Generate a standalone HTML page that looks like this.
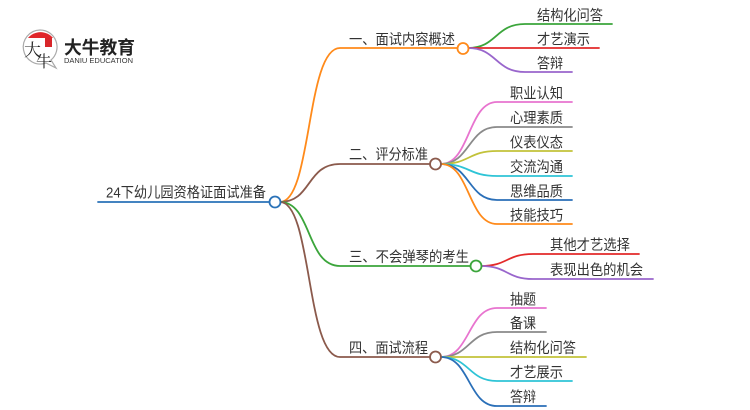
<!DOCTYPE html>
<html><head><meta charset="utf-8"><style>
html,body{margin:0;padding:0;background:#fff;}
svg{display:block;}
text{font-family:"Liberation Sans","Noto Sans CJK SC",sans-serif;font-size:14.5px;fill:#333;}
</style></head><body>
<svg width="750" height="410" viewBox="0 0 750 410" xmlns="http://www.w3.org/2000/svg">
<!-- logo -->
<g>
  <path d="M40,30 a17,17 0 1,0 6,33 l10,5 l-5,-8 a17,17 0 0,0 -11,-30z" fill="#fff" stroke="#aaa" stroke-width="1.2"/>
  <path d="M28,38 a15,13 0 0,1 25,0 z" fill="#e0262a"/>
  <text x="24" y="56" style="font-size:17px;fill:#222;font-family:'Noto Serif CJK SC',serif">大</text>
  <text x="36" y="67" style="font-size:16px;fill:#222;font-family:'Noto Serif CJK SC',serif">牛</text>
  <rect x="45" y="38" width="7" height="9" fill="#d8262a"/>
  <text x="64" y="54" textLength="71" lengthAdjust="spacingAndGlyphs" style="font-size:18px;font-weight:bold;fill:#222">大牛教育</text>
  <text x="64" y="63" textLength="69" lengthAdjust="spacingAndGlyphs" style="font-size:7px;fill:#333">DANIU EDUCATION</text>
</g>

<g fill="none" stroke-width="1.8" stroke-linecap="round">
  <!-- root -->
  <line x1="98" y1="202" x2="270" y2="202" stroke="#2a72b8"/>
  <!-- main branches -->
  <path d="M280,202 C312,202 306,48 340,48 L457,48" stroke="#ff8a1a"/>
  <path d="M280,202 C312,202 306,164 340,164 L430,164" stroke="#8b5a4c"/>
  <path d="M280,202 C312,202 306,266 340,266 L470,266" stroke="#3ba53b"/>
  <path d="M280,202 C312,202 306,357 340,357 L430,357" stroke="#8b5a4c"/>

  <!-- branch 1 children -->
  <path d="M468,48 C497,48 495,24 525,24 L612,24" stroke="#3ba53b"/>
  <path d="M468,48 L599,48" stroke="#e32a2a"/>
  <path d="M468,48 C497,48 495,72 525,72 L572,72" stroke="#9966cc"/>

  <!-- branch 2 children -->
  <path d="M441,164 C470,164 468,102 497,102 L572,102" stroke="#e874cf"/>
  <path d="M441,164 C470,164 468,127 497,127 L572,127" stroke="#8a8a8a"/>
  <path d="M441,164 C470,164 468,151 497,151 L572,151" stroke="#c2c23a"/>
  <path d="M441,164 C470,164 468,176 497,176 L572,176" stroke="#2ec4d6"/>
  <path d="M441,164 C470,164 468,200 497,200 L572,200" stroke="#2a6fb8"/>
  <path d="M441,164 C470,164 468,224 497,224 L572,224" stroke="#ff8a1a"/>

  <!-- branch 3 children -->
  <path d="M481,266 C508,266 506,254 533,254 L639,254" stroke="#e32a2a"/>
  <path d="M481,266 C508,266 506,279 533,279 L653,279" stroke="#9966cc"/>

  <!-- branch 4 children -->
  <path d="M441,357 C470,357 468,308 497,308 L546,308" stroke="#e874cf"/>
  <path d="M441,357 C470,357 468,332 497,332 L546,332" stroke="#8a8a8a"/>
  <path d="M441,357 L586,357" stroke="#c2c23a"/>
  <path d="M441,357 C470,357 468,381 497,381 L572,381" stroke="#2ec4d6"/>
  <path d="M441,357 C470,357 468,406 497,406 L546,406" stroke="#2a6fb8"/>
</g>

<!-- circles -->
<g fill="#fff" stroke-width="1.8">
  <circle cx="275" cy="202" r="5.5" stroke="#2a72b8"/>
  <circle cx="463" cy="48.5" r="5.5" stroke="#ff8a1a"/>
  <circle cx="435.5" cy="164" r="5.5" stroke="#8b5a4c"/>
  <circle cx="476" cy="266" r="5.5" stroke="#3ba53b"/>
  <circle cx="435.5" cy="357" r="5.5" stroke="#8b5a4c"/>
</g>

<!-- labels -->
<text x="106" y="197.5" textLength="160" lengthAdjust="spacingAndGlyphs">24下幼儿园资格证面试准备</text>
<text x="349" y="44.5" textLength="106" lengthAdjust="spacingAndGlyphs">一、面试内容概述</text>
<text x="349" y="159.5" textLength="79" lengthAdjust="spacingAndGlyphs">二、评分标准</text>
<text x="349" y="262" textLength="120" lengthAdjust="spacingAndGlyphs">三、不会弹琴的考生</text>
<text x="349" y="353" textLength="79" lengthAdjust="spacingAndGlyphs">四、面试流程</text>

<text x="537" y="20.5" textLength="66" lengthAdjust="spacingAndGlyphs">结构化问答</text>
<text x="537" y="44.5" textLength="53" lengthAdjust="spacingAndGlyphs">才艺演示</text>
<text x="537" y="68.5" textLength="26" lengthAdjust="spacingAndGlyphs">答辩</text>

<text x="510" y="98.5" textLength="53" lengthAdjust="spacingAndGlyphs">职业认知</text>
<text x="510" y="123" textLength="53" lengthAdjust="spacingAndGlyphs">心理素质</text>
<text x="510" y="147.5" textLength="53" lengthAdjust="spacingAndGlyphs">仪表仪态</text>
<text x="510" y="172" textLength="53" lengthAdjust="spacingAndGlyphs">交流沟通</text>
<text x="510" y="196.5" textLength="53" lengthAdjust="spacingAndGlyphs">思维品质</text>
<text x="510" y="220.5" textLength="53" lengthAdjust="spacingAndGlyphs">技能技巧</text>

<text x="550" y="250" textLength="80" lengthAdjust="spacingAndGlyphs">其他才艺选择</text>
<text x="550" y="275" textLength="93" lengthAdjust="spacingAndGlyphs">表现出色的机会</text>

<text x="510" y="304.5" textLength="26" lengthAdjust="spacingAndGlyphs">抽题</text>
<text x="510" y="328.5" textLength="26" lengthAdjust="spacingAndGlyphs">备课</text>
<text x="510" y="353" textLength="66" lengthAdjust="spacingAndGlyphs">结构化问答</text>
<text x="510" y="377.5" textLength="53" lengthAdjust="spacingAndGlyphs">才艺展示</text>
<text x="510" y="402" textLength="26" lengthAdjust="spacingAndGlyphs">答辩</text>
</svg>
</body></html>
